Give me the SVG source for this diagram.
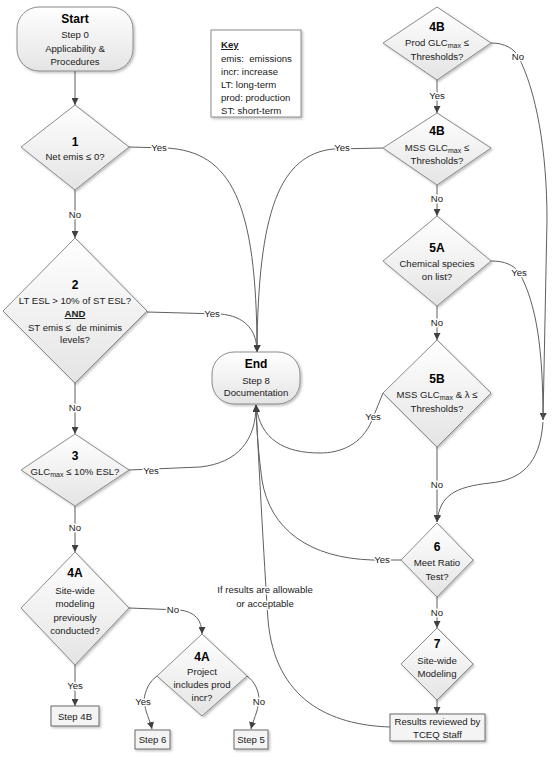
<svg xmlns="http://www.w3.org/2000/svg" width="560" height="771" viewBox="0 0 560 771">
<defs>
<linearGradient id="g" x1="0" y1="0" x2="0" y2="1">
<stop offset="0" stop-color="#ffffff"/>
<stop offset="1" stop-color="#e4e4e4"/>
</linearGradient>
<filter id="sh" x="-10%" y="-10%" width="130%" height="130%">
<feDropShadow dx="1.5" dy="1.5" stdDeviation="1" flood-color="#000" flood-opacity="0.25"/>
</filter>
<marker id="ar" viewBox="0 0 10 10" refX="10" refY="5" markerWidth="7" markerHeight="7" markerUnits="userSpaceOnUse" orient="auto">
<path d="M0,0 L10,5 L0,10 z" fill="#404040"/>
</marker>
</defs>
<style>
.n{fill:url(#g);stroke:#8a8a8a;stroke-width:1;filter:url(#sh)}
.b{fill:#f4f4f4;stroke:#6a6a6a;stroke-width:1;filter:url(#sh)}
.k{fill:#fff;stroke:#8a8a8a;stroke-width:1;filter:url(#sh)}
text{font-family:"Liberation Sans",Arial,sans-serif;font-size:9.6px;fill:#1a1a1a;text-anchor:middle}
.t{font-size:12px;font-weight:bold;fill:#000}
.l{font-size:9.6px;fill:#222;stroke:#fff;stroke-width:3;paint-order:stroke;stroke-linejoin:round}
.kt{text-anchor:start;white-space:pre}
.c path{fill:none;stroke:#5f5f5f;stroke-width:1}
.s{font-size:7px;fill:#1a1a1a}
</style>
<rect width="560" height="771" fill="#fff"/>

<g class="c" id="connectors">
<path d="M75,71 V105" marker-end="url(#ar)"/>
<path d="M75,190 V238" marker-end="url(#ar)"/>
<path d="M75,383 V434" marker-end="url(#ar)"/>
<path d="M75,506 V552" marker-end="url(#ar)"/>
<path d="M75,665 V706" marker-end="url(#ar)"/>
<path d="M437,80 V113" marker-end="url(#ar)"/>
<path d="M437,185 V216" marker-end="url(#ar)"/>
<path d="M437,306 V340" marker-end="url(#ar)"/>
<path d="M437,447 V522" marker-end="url(#ar)"/>
<path d="M437,597 V628" marker-end="url(#ar)"/>
<path d="M437,700 V714" marker-end="url(#ar)"/>
<path d="M129,147 L167,148 C230,152 257,200 257,352" marker-end="url(#ar)"/>
<path d="M147,312 L220,314 C245,316 257,330 257,352" marker-end="url(#ar)"/>
<path d="M383,148 L333,149 C280,155 258,210 257,352" marker-end="url(#ar)"/>
<path d="M129,470 L200,467 C238,463 256,440 256,405" marker-end="url(#ar)"/>
<path d="M383,393 L372,420 C362,445 340,453 320,453 C285,453 260,440 256,405" marker-end="url(#ar)"/>
<path d="M401,560 L372,560 C310,558 270,530 262,480 C258,450 256,420 256,405" marker-end="url(#ar)"/>
<path d="M390,727 C330,725 275,700 268,620 C264,560 258,450 256,405" marker-end="url(#ar)"/>
<path d="M491,43 C505,43 514,49 518,56 C536,90 547,150 547,220 L543,420" marker-end="url(#ar)"/>
<path d="M491,261 C505,261 513,265 519,272 C537,305 543,350 543,420"/>
<path d="M543,422 C540,465 520,480 490,483 C455,487 440,495 437,522" marker-end="url(#ar)"/>
<path d="M129,608 L180,610 C195,612 202,620 202,634" marker-end="url(#ar)"/>
<path d="M157,676 C150,681 145,690 144,700 C145,712 150,720 152,729" marker-end="url(#ar)"/>
<path d="M247,676 C254,681 259,690 259,700 C258,712 253,720 251,729" marker-end="url(#ar)"/>
</g>

<g id="labels">
<text class="l" x="159" y="151">Yes</text>
<text class="l" x="75" y="218">No</text>
<text class="l" x="212" y="317">Yes</text>
<text class="l" x="75" y="411">No</text>
<text class="l" x="151" y="474">Yes</text>
<text class="l" x="75" y="531">No</text>
<text class="l" x="75" y="689">Yes</text>
<text class="l" x="173" y="613">No</text>
<text class="l" x="143" y="705">Yes</text>
<text class="l" x="259" y="705">No</text>
<text class="l" x="437" y="99">Yes</text>
<text class="l" x="518" y="60">No</text>
<text class="l" x="342" y="151">Yes</text>
<text class="l" x="437" y="202">No</text>
<text class="l" x="519" y="276">Yes</text>
<text class="l" x="437" y="326">No</text>
<text class="l" x="373" y="420">Yes</text>
<text class="l" x="437" y="488">No</text>
<text class="l" x="382" y="563">Yes</text>
<text class="l" x="437" y="616">No</text>
<text class="l" x="265" y="593">If results are allowable</text>
<text class="l" x="265" y="607">or acceptable</text>
</g>

<g id="start">
<rect class="n" x="17" y="7" width="116" height="64" rx="22" ry="22"/>
<text class="t" x="75" y="23">Start</text>
<text x="75" y="38">Step 0</text>
<text x="75" y="52">Applicability &amp;</text>
<text x="75" y="65">Procedures</text>
</g>

<g id="key">
<rect class="k" x="211" y="30" width="90" height="87"/>
<text class="kt" x="221" y="48" font-weight="bold" text-decoration="underline">Key</text>
<text class="kt" x="221" y="62">emis:  emissions</text>
<text class="kt" x="221" y="75">incr: increase</text>
<text class="kt" x="221" y="88">LT: long-term</text>
<text class="kt" x="221" y="101">prod: production</text>
<text class="kt" x="221" y="114">ST: short-term</text>
</g>

<g id="d1">
<path class="n" d="M75,105 L129,147 L75,190 L21,147 Z"/>
<text class="t" x="75" y="146">1</text>
<text x="75" y="160">Net emis ≤ 0?</text>
</g>

<g id="d2">
<path class="n" d="M75,238 L147,311 L75,383 L3,311 Z"/>
<text class="t" x="75" y="289">2</text>
<text x="75" y="304">LT ESL &gt; 10% of ST ESL?</text>
<text x="75" y="317" font-weight="bold" text-decoration="underline">AND</text>
<text x="75" y="331" style="white-space:pre">ST emis ≤  de minimis</text>
<text x="75" y="343">levels?</text>
</g>

<g id="end">
<rect class="n" x="212" y="352" width="88" height="52" rx="22" ry="22"/>
<text class="t" x="256" y="368">End</text>
<text x="256" y="384">Step 8</text>
<text x="256" y="396">Documentation</text>
</g>

<g id="d3">
<path class="n" d="M75,434 L129,470 L75,506 L21,470 Z"/>
<text class="t" x="75" y="460">3</text>
<text x="75" y="475">GLC<tspan class="s" dy="2">max</tspan><tspan dy="-2"> ≤ 10% ESL?</tspan></text>
</g>

<g id="d4a">
<path class="n" d="M75,552 L129,608 L75,665 L21,608 Z"/>
<text class="t" x="75" y="577">4A</text>
<text x="75" y="594">Site-wide</text>
<text x="75" y="607">modeling</text>
<text x="75" y="621">previously</text>
<text x="75" y="634">conducted?</text>
</g>

<g id="step4b">
<rect class="b" x="51" y="706" width="48" height="20"/>
<text x="75" y="720">Step 4B</text>
</g>

<g id="d4a2">
<path class="n" d="M202,634 L247,676 L202,716 L157,676 Z"/>
<text class="t" x="202" y="661">4A</text>
<text x="202" y="675">Project</text>
<text x="202" y="688">includes prod</text>
<text x="202" y="701">incr?</text>
</g>

<g id="step6">
<rect class="b" x="135" y="730" width="35" height="19"/>
<text x="152.5" y="743">Step 6</text>
</g>

<g id="step5">
<rect class="b" x="234" y="730" width="34" height="19"/>
<text x="251" y="743">Step 5</text>
</g>

<g id="d4b1">
<path class="n" d="M437,7 L491,43 L437,80 L383,43 Z"/>
<text class="t" x="437" y="31">4B</text>
<text x="437" y="46">Prod GLC<tspan class="s" dy="2">max</tspan><tspan dy="-2"> ≤</tspan></text>
<text x="437" y="60">Thresholds?</text>
</g>

<g id="d4b2">
<path class="n" d="M437,113 L491,148 L437,185 L383,148 Z"/>
<text class="t" x="437" y="135">4B</text>
<text x="437" y="151">MSS GLC<tspan class="s" dy="2">max</tspan><tspan dy="-2"> ≤</tspan></text>
<text x="437" y="164">Thresholds?</text>
</g>

<g id="d5a">
<path class="n" d="M437,216 L491,261 L437,306 L383,261 Z"/>
<text class="t" x="437" y="252">5A</text>
<text x="437" y="267">Chemical species</text>
<text x="437" y="280">on list?</text>
</g>

<g id="d5b">
<path class="n" d="M437,340 L491,393 L437,447 L383,393 Z"/>
<text class="t" x="437" y="383">5B</text>
<text x="437" y="398">MSS GLC<tspan class="s" dy="2">max</tspan><tspan dy="-2"> &amp; λ ≤</tspan></text>
<text x="437" y="412">Thresholds?</text>
</g>

<g id="d6">
<path class="n" d="M437,523 L473,560 L437,597 L401,560 Z"/>
<text class="t" x="437" y="551">6</text>
<text x="437" y="566">Meet Ratio</text>
<text x="437" y="580">Test?</text>
</g>

<g id="d7">
<path class="n" d="M437,628 L473,664 L437,700 L401,664 Z"/>
<text class="t" x="437" y="648">7</text>
<text x="437" y="664">Site-wide</text>
<text x="437" y="677">Modeling</text>
</g>

<g id="results">
<rect class="b" x="390" y="714" width="95" height="27"/>
<text x="437.5" y="725">Results reviewed by</text>
<text x="437.5" y="738">TCEQ Staff</text>
</g>
</svg>
